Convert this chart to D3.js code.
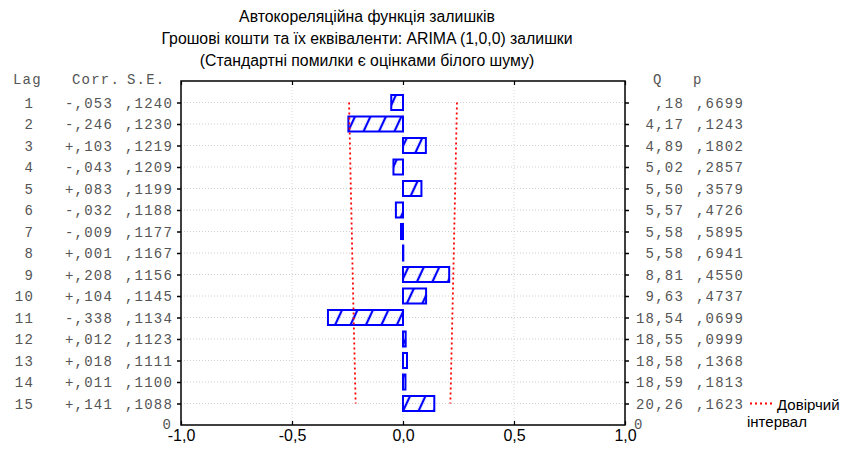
<!DOCTYPE html>
<head>
  <meta charset="utf-8">
  <script src="https://cdn.jsdelivr.net/npm/d3@7/dist/d3.min.js"></script>
  <style>
    body { margin:0; background:#fff; }
    .mono { font-family: "Liberation Mono", "Courier New", monospace; font-size:14px; letter-spacing:1.2px; fill:#555; }
    .sans { font-family: "Liberation Sans", Arial, sans-serif; fill:#000; }
  </style>
</head>
<body>
  <script>
    // values
    var titleLines = ["Автокореляційна функція залишків",
                      "Грошові кошти та їх еквіваленти: ARIMA (1,0,0) залишки",
                      "(Стандартні помилки є оцінками білого шуму)"];
    var lags  = [1, 2, 3, 4, 5, 6, 7, 8, 9, 10, 11, 12, 13, 14, 15];
    var corr  = [-0.053, -0.246, 0.103, -0.043, 0.083, -0.032, -0.009, 0.001, 0.208, 0.104, -0.338, 0.012, 0.018, 0.011, 0.141];
    var se    = [0.1240, 0.1230, 0.1219, 0.1209, 0.1199, 0.1188, 0.1177, 0.1167, 0.1156, 0.1145, 0.1134, 0.1123, 0.1111, 0.1100, 0.1088];
    var qStat = [0.18, 4.17, 4.89, 5.02, 5.50, 5.57, 5.58, 5.58, 8.81, 9.63, 18.54, 18.55, 18.58, 18.59, 20.26];
    var pVal  = [0.6699, 0.1243, 0.1802, 0.2857, 0.3579, 0.4726, 0.5895, 0.6941, 0.4550, 0.4737, 0.0699, 0.0999, 0.1368, 0.1813, 0.1623];
    var xTicks = [-1, -0.5, 0, 0.5, 1];
    var legendLabel = ["Довірчий", "інтервал"];

    var width = 849, height = 452;
    var pLeft = 181, pRight = 625, pTop = 81, pBottom = 425;

    var svg = d3.select("body").append("svg")
      .attr("width", width).attr("height", height);

    var x = d3.scaleLinear().domain([-1, 1]).range([pLeft, pRight]);
    // lag 1 at the top, the bottom row (labelled 0) at position 16
    var y = d3.scaleLinear().domain([0, 16]).range([pTop, pBottom]);

    // number formats with comma decimal and no leading zero
    function noLead(s) { return s.replace(/^0\./, ".").replace(".", ","); }
    function fmtCorr(v) { return (v < 0 ? "-" : "+") + noLead(Math.abs(v).toFixed(3)); }
    function fmt4(v) { return noLead(v.toFixed(4)); }
    function fmtQ(v) { return noLead(v.toFixed(2)); }
    function fmtAxis(v) { return v.toFixed(1).replace(".", ","); }

    // hatch pattern
    var defs = svg.append("defs");
    defs.append("pattern")
      .attr("id", "hatch")
      .attr("patternUnits", "userSpaceOnUse")
      .attr("width", 14).attr("height", 14)
      .attr("patternTransform", "rotate(25)")
      .append("line")
        .attr("x1", 7).attr("y1", -2).attr("x2", 7).attr("y2", 16)
        .attr("stroke", "#0000ff").attr("stroke-width", 2.2);

    // title
    svg.selectAll(".title").data(titleLines).enter().append("text")
      .attr("class", "sans")
      .attr("x", 367).attr("y", function(d, i) { return 22 + i * 22; })
      .attr("text-anchor", "middle")
      .style("font-size", "15.8px")
      .text(function(d) { return d; });

    // grid
    svg.selectAll(".hgrid").data(lags).enter().append("line")
      .attr("x1", pLeft).attr("x2", pRight)
      .attr("y1", function(d) { return y(d); }).attr("y2", function(d) { return y(d); })
      .attr("stroke", "#d0d0d0").attr("stroke-dasharray", "1,2");
    svg.selectAll(".vgrid").data([-0.5, 0, 0.5]).enter().append("line")
      .attr("x1", function(d) { return x(d); }).attr("x2", function(d) { return x(d); })
      .attr("y1", pTop).attr("y2", pBottom)
      .attr("stroke", "#d8d8d8").attr("stroke-dasharray", "1,2");

    // bars
    var barH = 15;
    svg.selectAll(".bar").data(lags).enter().append("rect")
      .attr("x", function(d, i) { return Math.min(x(0), x(corr[i])); })
      .attr("y", function(d) { return y(d) - barH / 2; })
      .attr("width", function(d, i) { return Math.max(0.3, Math.abs(x(corr[i]) - x(0))); })
      .attr("height", barH)
      .attr("fill", "url(#hatch)")
      .attr("stroke", "#0000ff").attr("stroke-width", 2);

    // confidence limits
    var lo = d3.line().x(function(d, i) { return x(-1.96 * se[i]); }).y(function(d) { return y(d); });
    var hi = d3.line().x(function(d, i) { return x(1.96 * se[i]); }).y(function(d) { return y(d); });
    [lo, hi].forEach(function(l) {
      svg.append("path").datum(lags).attr("d", l)
        .attr("fill", "none").attr("stroke", "#ff0000")
        .attr("stroke-width", 1.8).attr("stroke-dasharray", "2,3");
    });

    // frame
    svg.append("rect")
      .attr("x", pLeft).attr("y", pTop).attr("width", pRight - pLeft).attr("height", pBottom - pTop)
      .attr("fill", "none").attr("stroke", "#000").attr("stroke-width", 1.5);

    // axes
    var xAxisB = d3.axisBottom(x).tickValues(xTicks).tickSize(-4).tickFormat(fmtAxis).tickPadding(5);
    var gxb = svg.append("g").attr("transform", "translate(0," + pBottom + ")").call(xAxisB);
    gxb.select(".domain").remove();
    gxb.selectAll("text").attr("class", "sans").style("font-size", "16px").attr("fill", "#000");
    gxb.selectAll("line").attr("stroke-width", 1.2);

    var xAxisT = d3.axisTop(x).tickValues(xTicks).tickSize(-4).tickFormat("");
    var gxt = svg.append("g").attr("transform", "translate(0," + pTop + ")").call(xAxisT);
    gxt.select(".domain").remove();
    gxt.selectAll("line").attr("stroke-width", 1.2);

    var yAxisL = d3.axisLeft(y).tickValues(lags).tickSize(4).tickFormat("");
    var gyl = svg.append("g").attr("transform", "translate(" + pLeft + ",0)").call(yAxisL);
    gyl.select(".domain").remove();
    gyl.selectAll("line").attr("stroke-width", 1.5);
    var yAxisR = d3.axisRight(y).tickValues(lags).tickSize(4).tickFormat("");
    var gyr = svg.append("g").attr("transform", "translate(" + pRight + ",0)").call(yAxisR);
    gyr.select(".domain").remove();
    gyr.selectAll("line").attr("stroke-width", 1.5);

    // table headers
    var hdrY = y(0) + 3;
    svg.append("text").attr("class", "mono").attr("x", 13).attr("y", hdrY).text("Lag");
    svg.append("text").attr("class", "mono").attr("x", 72).attr("y", hdrY).text("Corr.");
    svg.append("text").attr("class", "mono").attr("x", 127).attr("y", hdrY).text("S.E.");
    svg.append("text").attr("class", "mono").attr("x", 653).attr("y", hdrY).text("Q");
    svg.append("text").attr("class", "mono").attr("x", 693).attr("y", hdrY).text("p");

    // table rows
    var rows = svg.selectAll(".row").data(lags).enter().append("g")
      .attr("transform", function(d) { return "translate(0," + (y(d) + 5) + ")"; });
    rows.append("text").attr("class", "mono").attr("x", 34).attr("text-anchor", "end")
      .text(function(d) { return d; });
    rows.append("text").attr("class", "mono").attr("x", 113).attr("text-anchor", "end")
      .text(function(d, i) { return fmtCorr(corr[i]); });
    rows.append("text").attr("class", "mono").attr("x", 173).attr("text-anchor", "end")
      .text(function(d, i) { return fmt4(se[i]); });
    rows.append("text").attr("class", "mono").attr("x", 684).attr("text-anchor", "end")
      .text(function(d, i) { return fmtQ(qStat[i]); });
    rows.append("text").attr("class", "mono").attr("x", 744).attr("text-anchor", "end")
      .text(function(d, i) { return fmt4(pVal[i]); });

    svg.append("text").attr("class", "mono").attr("x", 172).attr("y", y(16) + 4).attr("text-anchor", "end").text("0");
    svg.append("text").attr("class", "mono").attr("x", 634).attr("y", y(16) + 4).text("0");

    // legend
    svg.append("line").attr("x1", 750).attr("x2", 775).attr("y1", y(15)).attr("y2", y(15))
      .attr("stroke", "#ff0000").attr("stroke-width", 1.8).attr("stroke-dasharray", "2,3");
    svg.append("text").attr("class", "sans").attr("x", 777).attr("y", 409.5)
      .style("font-size", "15px").text(legendLabel[0]);
    svg.append("text").attr("class", "sans").attr("x", 747).attr("y", 427)
      .style("font-size", "15px").text(legendLabel[1]);
  </script>
</body>
